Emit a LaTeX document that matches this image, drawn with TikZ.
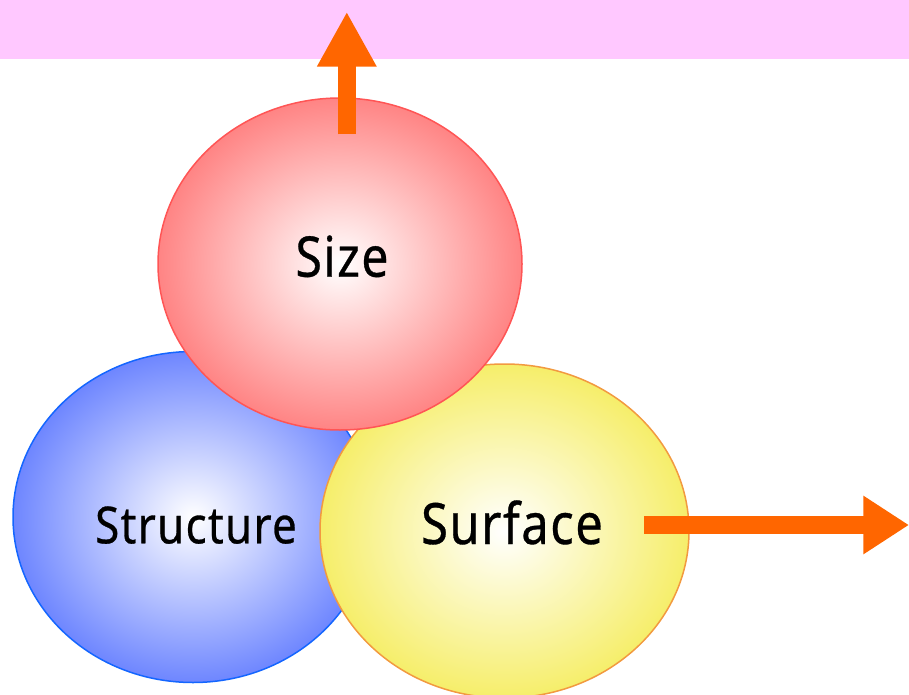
\documentclass[tikz,border=0pt]{standalone}
\usepackage{fontspec}
\newfontfamily\lblfont[FakeBold=0.6,LetterSpace=3]{Noto Sans}
\usetikzlibrary{shapes.geometric,arrows.meta}
\definecolor{bandpink}{HTML}{FFC8FF}
\definecolor{arroworange}{HTML}{FF6600}
\definecolor{redfill}{HTML}{FF8484}
\definecolor{redline}{HTML}{FF5555}
\definecolor{bluefill}{HTML}{6E86FF}
\definecolor{blueline}{HTML}{1466FF}
\definecolor{yellowfill}{HTML}{F6EE6A}
\definecolor{yellowline}{HTML}{F29A40}
\tikzset{
  bubble/.style={ellipse, inner sep=0pt, line width=1.5pt},
  lbl/.style={inner sep=0pt, anchor=base, text=black},
  bigarrow/.style={draw=arroworange, line cap=butt},
}
\begin{document}
\begin{tikzpicture}[x=1pt,y=-1pt]
\useasboundingbox (0,0) rectangle (909,695);
\fill[bandpink] (0,0) rectangle (909,59);
% bubbles
\node[bubble, draw=blueline, inner color=white, outer color=bluefill,
      minimum width=360, minimum height=331] (structure) at (193,517) {};
\node[bubble, draw=yellowline, inner color=white, outer color=yellowfill,
      minimum width=369, minimum height=334] (surface) at (504.5,531) {};
\node[bubble, draw=redline, inner color=white, outer color=redfill,
      minimum width=364, minimum height=332] (size) at (340,264) {};
% labels
\node[lbl] (sizetext) at (342,276.7) {\lblfont\fontsize{56}{60}\selectfont\scalebox{0.86}[1]{Size}};
\node[lbl] (structtext) at (196,543.3) {\lblfont\fontsize{51}{56}\selectfont\scalebox{0.86}[1]{Structure}};
\node[lbl] (surftext) at (512,544) {\lblfont\fontsize{57}{62}\selectfont\scalebox{0.86}[1]{Surface}};
% arrows
\coordinate (upstart) at (346.8,134.3);
\coordinate (uptip) at (346.8,11.7);
\coordinate (rstart) at (644,525);
\coordinate (rtip) at (909,525);
\draw[bigarrow, line width=18.3pt, -{Triangle[width=55.7pt,length=55pt]}, arroworange] (upstart) -- (uptip);
\draw[bigarrow, line width=18.6pt, -{Triangle[width=55.4pt,length=45.7pt]}, arroworange] (rstart) -- (rtip);
\end{tikzpicture}
\end{document}
